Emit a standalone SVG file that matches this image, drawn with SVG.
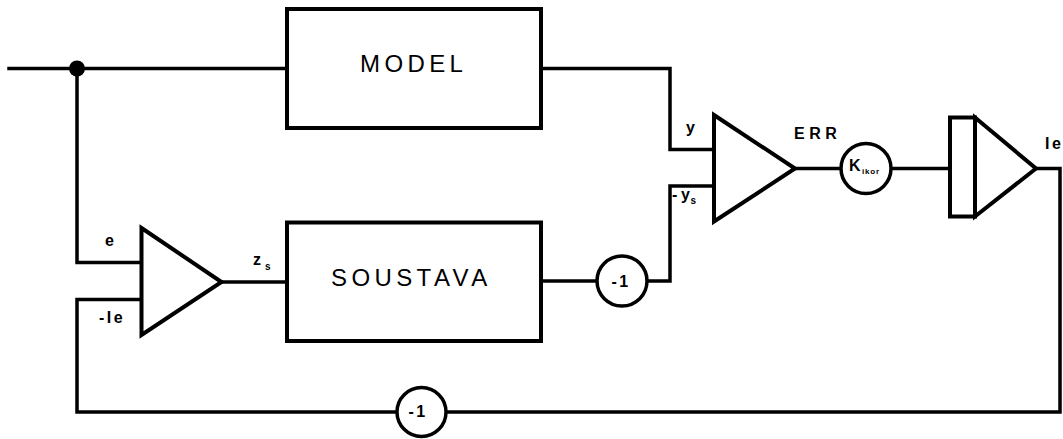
<svg xmlns="http://www.w3.org/2000/svg" width="1063" height="439" viewBox="0 0 1063 439">
<style>
.ln{fill:none;stroke:#000;stroke-width:3.5;stroke-linejoin:miter;stroke-linecap:square}
.bx{fill:#fff;stroke:#000;stroke-width:4}
.big{font-family:"Liberation Sans",Arial,sans-serif;font-size:24px;letter-spacing:4.4px;fill:#000}
.lb{font-family:"Liberation Sans",Arial,sans-serif;font-size:16px;font-weight:bold;letter-spacing:2.5px;fill:#000}
.sb{font-family:"Liberation Sans",Arial,sans-serif;font-size:10px;font-weight:bold;fill:#000}
</style>
<rect width="1063" height="439" fill="#fff"/>
<g id="connectors">
<path class="ln" d="M9,68.5 H287"/>
<path class="ln" d="M77,68.5 V262.5 H141"/>
<path class="ln" d="M541,68.5 H670 V149.5 H714"/>
<path class="ln" d="M221,282 H287"/>
<path class="ln" d="M541,281 H597"/>
<path class="ln" d="M647,281 H670 V186 H714"/>
<path class="ln" d="M795,168.5 H841"/>
<path class="ln" d="M891,168.5 H950"/>
<path class="ln" d="M1036,168.5 H1060 V412 H446"/>
<path class="ln" d="M397,412 H77 V299.5 H141"/>
<circle cx="77" cy="68.5" r="8" fill="#000"/>
</g>
<g id="model">
<rect class="bx" x="287" y="9" width="254" height="119"/>
<text class="big" x="360" y="72">MODEL</text>
</g>
<g id="soustava">
<rect class="bx" x="287" y="222.5" width="254" height="118.5"/>
<text class="big" x="331" y="286">SOUSTAVA</text>
</g>
<g id="sum1">
<path class="bx" d="M141.5,228 L221.5,282 L141.5,335 Z"/>
<text class="lb" x="105" y="246">e</text>
<text class="lb" x="99" y="323">-Ie</text>
<text class="lb" x="253" y="265">z</text>
<text class="sb" x="265" y="270">s</text>
</g>
<g id="neg1">
<circle class="bx" cx="622" cy="281" r="25" style="stroke-width:3.5"/>
<text class="lb" x="611.5" y="287">-1</text>
</g>
<g id="sum2">
<path class="bx" d="M714,115 L795,168.5 L714,221.5 Z"/>
<text class="lb" x="686" y="133">y</text>
<text class="lb" x="672" y="200">-</text>
<text class="lb" x="681" y="200">y</text>
<text class="sb" x="690.5" y="204">s</text>
<text class="lb" x="794" y="138.5" style="letter-spacing:4.5px">ERR</text>
</g>
<g id="kikor">
<circle class="bx" cx="866" cy="168.5" r="25" style="stroke-width:3.5"/>
<text class="lb" x="849" y="171" style="letter-spacing:0">K</text>
<text class="sb" x="862" y="174" style="font-size:8px;letter-spacing:0.8px">ikor</text>
</g>
<g id="integrator">
<rect class="bx" x="950" y="117.5" width="25" height="99"/>
<path class="bx" d="M975,117.5 L1036,168.5 L975,216.5 Z"/>
<text class="lb" x="1045" y="148.5">Ie</text>
</g>
<g id="neg2">
<circle class="bx" cx="421.5" cy="412" r="24.5" style="stroke-width:3.5"/>
<text class="lb" x="408.5" y="417">-1</text>
</g>
</svg>
